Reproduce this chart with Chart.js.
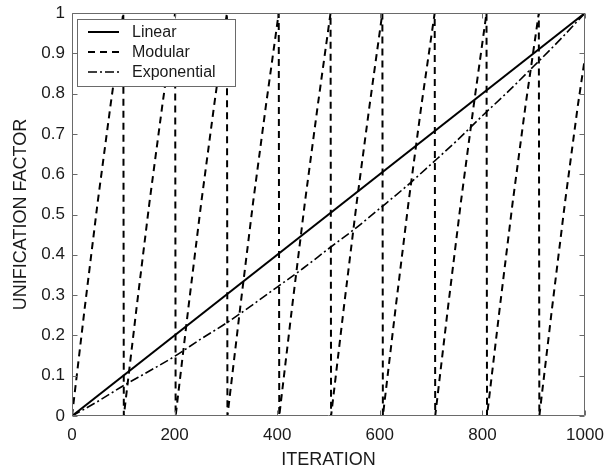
<!DOCTYPE html>
<html>
<head>
<meta charset="utf-8">
<script src="https://cdn.jsdelivr.net/npm/chart.js@4/dist/chart.umd.min.js"></script>
<style>
  html, body { margin: 0; padding: 0; background: #ffffff; }
  #wrap { width: 607px; height: 471px; position: relative; }
</style>
</head>
<body>
<div id="wrap"><canvas id="c" width="607" height="471"></canvas></div>
<script>
// ---- Data ----
const seriesNames = ["Linear", "Modular", "Exponential"];

const linearX = [0, 1000];
const linearY = [0, 1];

const modularX = [
  0, 25, 50, 75, 100,
  101, 126, 151, 176, 201,
  202, 227, 252, 277, 302,
  303, 328, 353, 378, 403,
  404, 429, 454, 479, 504,
  505, 530, 555, 580, 605,
  606, 631, 656, 681, 707,
  708, 733, 758, 783, 808,
  809, 834, 859, 884, 910,
  911, 936, 961, 986, 1000
];
const modularY = [
  0, 0.27, 0.53, 0.77, 1,
  0, 0.27, 0.53, 0.77, 1,
  0, 0.27, 0.53, 0.77, 1,
  0, 0.27, 0.53, 0.77, 1,
  0, 0.27, 0.53, 0.77, 1,
  0, 0.27, 0.53, 0.77, 1,
  0, 0.27, 0.53, 0.77, 1,
  0, 0.27, 0.53, 0.77, 1,
  0, 0.27, 0.53, 0.77, 1,
  0, 0.27, 0.53, 0.77, 0.89
];

const exponentialX = [0, 50, 100, 150, 200, 250, 300, 350, 400, 450, 500,
                      550, 600, 650, 700, 750, 800, 850, 900, 950, 1000];
const exponentialY = [0, 0.036, 0.075, 0.111, 0.148, 0.19, 0.23, 0.274, 0.32, 0.366, 0.415,
                      0.463, 0.515, 0.568, 0.625, 0.683, 0.745, 0.805, 0.868, 0.932, 1.0];

const xTickValues = [0, 200, 400, 600, 800, 1000];
const yTickValues = [0, 0.1, 0.2, 0.3, 0.4, 0.5, 0.6, 0.7, 0.8, 0.9, 1];
const yTickLabels = ["0", "0.1", "0.2", "0.3", "0.4", "0.5", "0.6", "0.7", "0.8", "0.9", "1"];

const xTitle = "ITERATION";
const yTitle = "UNIFICATION FACTOR";

// ---- Build ----
function pts(xs, ys) { return xs.map((x, i) => ({ x: x, y: ys[i] })); }

const FONT = "'Liberation Sans', Arial, Helvetica, sans-serif";
const TEXT = "#1a1a1a";
const FRAME = "#6a6a6a";

const frameAndTicks = {
  id: "frameAndTicks",
  afterDatasetsDraw(chart) {
    const ctx = chart.ctx, a = chart.chartArea;
    const xs = chart.scales.x, ys = chart.scales.y;
    ctx.save();
    ctx.strokeStyle = FRAME;
    ctx.lineWidth = 1;
    ctx.setLineDash([]);
    const L = Math.round(a.left) + 0.5, R = Math.round(a.right) - 0.5;
    const T = Math.round(a.top) + 0.5, B = Math.round(a.bottom) - 0.5;
    ctx.beginPath();
    ctx.rect(L, T, R - L, B - T);
    const tl = 5;
    xTickValues.forEach(v => {
      const p = Math.round(xs.getPixelForValue(v)) + 0.5;
      ctx.moveTo(p, B); ctx.lineTo(p, B - tl);
      ctx.moveTo(p, T); ctx.lineTo(p, T + tl);
    });
    yTickValues.forEach(v => {
      const p = Math.round(ys.getPixelForValue(v)) + 0.5;
      ctx.moveTo(L, p); ctx.lineTo(L + tl, p);
      ctx.moveTo(R, p); ctx.lineTo(R - tl, p);
    });
    ctx.stroke();

    // legend box inside the plot
    const bx = a.left + 5, by = a.top + 6, bw = 158, bh = 67;
    ctx.fillStyle = "#ffffff";
    ctx.fillRect(bx, by, bw, bh);
    ctx.strokeStyle = FRAME;
    ctx.strokeRect(Math.round(bx) + 0.5, Math.round(by) + 0.5, bw, bh);
    ctx.font = "16px " + FONT;
    ctx.textBaseline = "middle";
    ctx.fillStyle = TEXT;
    chart.data.datasets.forEach((ds, i) => {
      const cy = by + 13 + i * 20;
      ctx.beginPath();
      ctx.strokeStyle = ds.borderColor;
      ctx.lineWidth = ds.borderWidth;
      ctx.setLineDash(ds.borderDash || []);
      ctx.moveTo(bx + 11, cy);
      ctx.lineTo(bx + 42, cy);
      ctx.stroke();
      ctx.setLineDash([]);
      ctx.fillText(ds.label, bx + 55, cy + 1);
    });
    ctx.restore();
  }
};

new Chart(document.getElementById("c"), {
  type: "line",
  data: {
    datasets: [
      { label: seriesNames[0], data: pts(linearX, linearY), borderColor: "#000000",
        borderWidth: 2, borderDash: [], pointRadius: 0, tension: 0 },
      { label: seriesNames[1], data: pts(modularX, modularY), borderColor: "#000000",
        borderWidth: 2, borderDash: [7, 5], pointRadius: 0, tension: 0 },
      { label: seriesNames[2], data: pts(exponentialX, exponentialY), borderColor: "#000000",
        borderWidth: 1.6, borderDash: [9, 3, 2, 3], pointRadius: 0, cubicInterpolationMode: "monotone" }
    ]
  },
  options: {
    responsive: false,
    animation: false,
    devicePixelRatio: 1,
    layout: { padding: { left: 0, right: 22, top: 13, bottom: 0 } },
    plugins: { legend: { display: false }, tooltip: { enabled: false } },
    scales: {
      x: {
        type: "linear", min: 0, max: 1000,
        afterBuildTicks: s => { s.ticks = xTickValues.map(v => ({ value: v })); },
        afterFit: s => { s.height = 55; s.paddingLeft = 0; s.paddingRight = 0; },
        grid: { display: false, drawTicks: false },
        border: { display: false },
        ticks: { font: { size: 17, family: FONT }, color: TEXT, padding: 9, maxRotation: 0,
                 callback: v => String(v) },
        title: { display: true, text: xTitle, font: { size: 18, family: FONT }, color: TEXT,
                 padding: { top: 0, bottom: 0 } }
      },
      y: {
        type: "linear", min: 0, max: 1,
        afterBuildTicks: s => { s.ticks = yTickValues.map(v => ({ value: v })); },
        afterFit: s => { s.width = 72; s.paddingTop = 0; s.paddingBottom = 0; },
        grid: { display: false, drawTicks: false },
        border: { display: false },
        ticks: { font: { size: 17, family: FONT }, color: TEXT, padding: 7,
                 callback: (v, i) => yTickLabels[i] },
        title: { display: true, text: yTitle, font: { size: 18, family: FONT }, color: TEXT,
                 padding: { top: 10, bottom: 0 } }
      }
    }
  },
  plugins: [frameAndTicks]
});
</script>
</body>
</html>
